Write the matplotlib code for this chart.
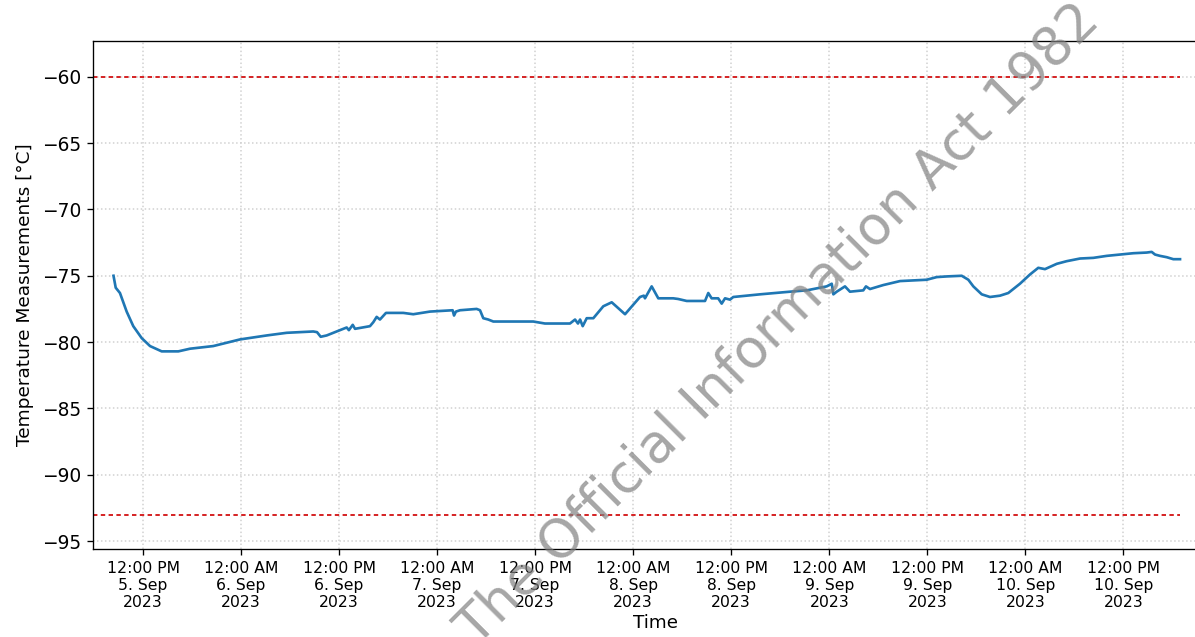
import matplotlib
matplotlib.use("Agg")
import matplotlib.pyplot as plt
import matplotlib.dates as mdates
from matplotlib.ticker import FuncFormatter
import pandas as pd

# ---- data (hours relative to 2023-09-05 12:00, temperature in °C) ----
ref_time = "2023-09-05 12:00"
hours = [-3.61, -3.34, -2.82, -2.00, -1.19, -0.16, 0.86, 2.29, 4.32, 5.75, 8.60, 11.87,
         15.14, 17.59, 20.84, 21.3, 21.75, 22.48, 24.11, 24.93, 25.2, 25.67, 25.95, 27.78,
         28.19, 28.6, 29.0, 29.74, 31.86, 33.08, 35.13, 37.9, 38.07, 38.3, 38.8, 40.84,
         41.25, 41.65, 42.26, 42.88, 47.77, 49.2, 52.26, 52.88, 53.24, 53.5, 53.82, 54.31,
         55.12, 56.34, 57.37, 59.0, 60.83, 61.3, 61.44, 62.26, 63.07, 64.9, 65.5, 66.55,
         68.79, 69.19, 69.6, 70.4, 70.83, 71.24, 71.85, 72.25, 75.52, 79.2, 81.24, 83.68,
         84.3, 84.5, 84.91, 85.92, 86.53, 88.16, 88.49, 88.98, 90.61, 92.66, 95.92, 97.15,
         98.37, 100.21, 101.02, 101.63, 102.66, 103.67, 104.9, 105.91, 107.34, 108.57,
         109.58, 110.4, 111.84, 113.06, 114.69, 116.32, 117.96, 119.58, 121.21, 122.85,
         123.46, 123.87, 124.48, 125.3, 126.11, 126.93]
temps = [-75.0, -75.9, -76.3, -77.7, -78.8, -79.7, -80.3, -80.7, -80.7, -80.5, -80.3, -79.8,
         -79.5, -79.3, -79.2, -79.25, -79.6, -79.5, -79.1, -78.9, -79.1, -78.7, -79.0, -78.8,
         -78.5, -78.1, -78.3, -77.8, -77.8, -77.9, -77.7, -77.6, -78.0, -77.7, -77.6, -77.5,
         -77.6, -78.2, -78.3, -78.45, -78.45, -78.6, -78.6, -78.3, -78.6, -78.3, -78.8, -78.2,
         -78.2, -77.3, -77.0, -77.9, -76.6, -76.5, -76.7, -75.8, -76.7, -76.7, -76.75, -76.9,
         -76.9, -76.3, -76.7, -76.7, -77.1, -76.7, -76.8, -76.6, -76.4, -76.2, -76.1, -75.8,
         -75.6, -76.4, -76.2, -75.8, -76.2, -76.1, -75.8, -76.0, -75.7, -75.4, -75.3, -75.1,
         -75.05, -75.0, -75.3, -75.8, -76.4, -76.6, -76.5, -76.3, -75.6, -74.9,
         -74.4, -74.5, -74.1, -73.9, -73.7, -73.65, -73.5, -73.4, -73.3, -73.25,
         -73.2, -73.4, -73.5, -73.6, -73.75, -73.75]
upper_limit = -60
lower_limit = -93
y_ticks = [-60, -65, -70, -75, -80, -85, -90, -95]
x_label = "Time"
y_label = "Temperature Measurements [°C]"
watermark = "The Official Information Act 1982"

times = pd.Timestamp(ref_time) + pd.to_timedelta(hours, unit="h")
x_left = pd.Timestamp(ref_time) + pd.Timedelta(hours=-6.12)
x_right = pd.Timestamp(ref_time) + pd.Timedelta(hours=131.7)

fig = plt.figure(figsize=(1195 / 120, 637 / 120), dpi=120)
ax = fig.add_axes([93 / 1195, 1 - 549 / 637, (1219 - 93) / 1195, (549 - 41) / 637])

ax.plot(times, temps, color="#1f77b4", lw=1.6, zorder=3)
for lim in (upper_limit, lower_limit):
    ax.hlines(lim, x_left, times[-1], colors="#d62728", lw=1.2,
              linestyles=(0, (2.2, 1.7)), zorder=2)

ax.set_xlim(x_left, x_right)
ax.set_ylim(-95.6, -57.3)
ax.set_yticks(y_ticks)
ax.tick_params(axis="y", labelsize=11.2)
ax.tick_params(axis="x", labelsize=9.4)

ax.xaxis.set_major_locator(mdates.HourLocator(byhour=[0, 12]))


def fmt(x, pos=None):
    d = mdates.num2date(x)
    return f"{d.strftime('%I:%M %p')}\n{d.day}. {d.strftime('%b')}\n{d.year}"


ax.xaxis.set_major_formatter(FuncFormatter(fmt))
for lab in ax.get_xticklabels():
    lab.set_horizontalalignment("center")

ax.grid(True, linestyle=":", color="#d0d0d0", lw=0.9)
ax.set_axisbelow(True)
ax.spines["right"].set_visible(False)
ax.set_xlabel(x_label, fontsize=11, labelpad=2)
ax.set_ylabel(y_label, fontsize=11.1, labelpad=5)

fig.text(778 / 1195, 1 - 325 / 637, watermark, fontsize=32, color="gray", alpha=0.7,
         rotation=45, ha="center", va="center", rotation_mode="anchor", zorder=10)

fig.savefig("out.png", dpi=120)
